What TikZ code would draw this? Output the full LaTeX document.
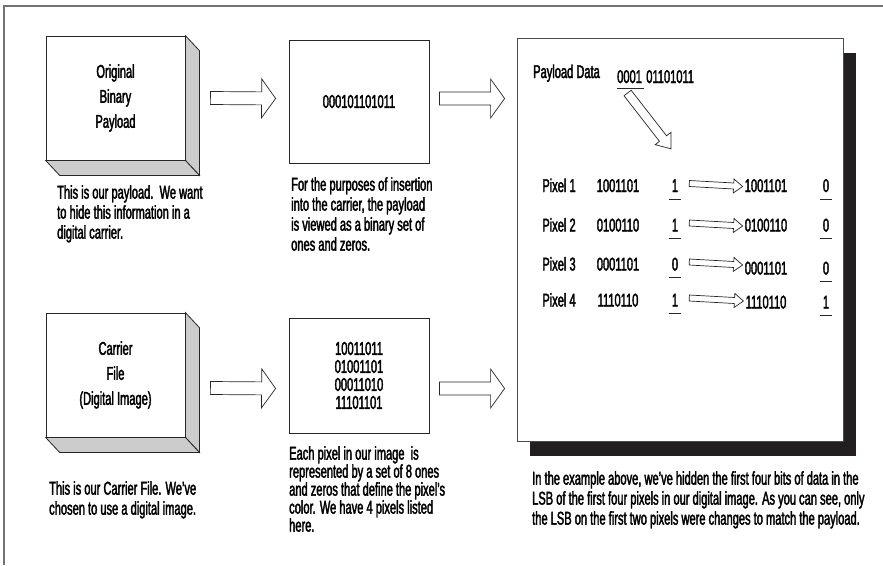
\documentclass[tikz,border=0pt]{standalone}
\usepackage{fontspec}
\setmainfont{Liberation Sans}[FakeStretch=0.6, FakeBold=2]
\usetikzlibrary{calc,shadows}

\definecolor{facegray}{HTML}{CCCCCC}
\definecolor{shadowblack}{HTML}{231F20}

\newcommand{\figfont}{\fontsize{18.5}{20}\selectfont}
\newcommand{\boxfont}{\fontsize{18.5}{25}\selectfont}
\newcommand{\digitfont}{\fontsize{18.5}{18}\selectfont}

% hollow block arrow: tail, tip, shaft half width, head half width, head length
\newcommand{\hollowarrow}[5]{%
  \coordinate (ha-t) at (#1);
  \coordinate (ha-h) at (#2);
  \coordinate (ha-n) at ($(ha-h)!#5!(ha-t)$);
  \draw[hollow] ($(ha-t)!#3!90:(ha-h)$) -- ($(ha-n)!#3!90:(ha-h)$)
    -- ($(ha-n)!#4!90:(ha-h)$) -- (ha-h) -- ($(ha-n)!#4!-90:(ha-h)$)
    -- ($(ha-n)!#3!-90:(ha-h)$) -- ($(ha-t)!#3!-90:(ha-h)$) -- cycle;
}

\tikzset{
  every node/.style={font=\figfont, inner sep=0pt},
  hollow/.style={draw=black!85, line width=0.7pt, fill=white},
  solidbox/.style={draw=black!85, line width=0.8pt, fill=white, minimum width=139pt, minimum height=124pt, align=center, font=\boxfont},
  face/.style={draw=black!85, line width=0.8pt, fill=facegray},
  plainbox/.style={draw=black!85, line width=0.8pt, fill=white, align=center},
  caption/.style={anchor=north west, align=left},
  bitnode/.style={anchor=base, inner xsep=3pt, text height=13pt, text depth=7pt},
  rowtext/.style={anchor=base},
}

\begin{document}
\begin{tikzpicture}[x=1pt, y=-1pt]
\useasboundingbox (0,0) rectangle (883,565);
\draw[black!55, line width=1.2pt] (4,565) -- (4,6) -- (883,6);

% solid boxes on the left
\node[solidbox] (payload) at (115.5,98) {Original\\Binary\\Payload};
\node[solidbox] (carrier) at (115.5,375) {Carrier\\File\\(Digital Image)};
\foreach \b in {payload,carrier} {
  \draw[face] (\b.north east) -- ++(14,15) -- ($(\b.south east)+(14,15)$) -- (\b.south east) -- cycle;
  \draw[face] (\b.south west) -- ++(14,15) -- ($(\b.south east)+(14,15)$) -- (\b.south east) -- cycle;
}

\node[caption] (capA) at (57,185) {This is our payload.\ \ We want\\to hide this information in a\\digital carrier.};
\node[caption] (capC) at (49,481) {This is our Carrier File. We've\\chosen to use a digital image.};

% binary views
\node[plainbox, minimum width=140pt, minimum height=123pt] (binary) at (359,101.5) {000101101011};
\node[plainbox, minimum width=140pt, minimum height=115pt, font=\digitfont] (binimg) at (359,375.5) {10011011\\01001101\\00011010\\11101101};

\node[caption] (capB) at (291,177) {For the purposes of insertion\\into the carrier, the payload\\is viewed as a binary set of\\ones and zeros.};
\node[caption, font=\digitfont] (capD) at (289,446) {Each pixel in our image\ \ is\\represented by a set of 8 ones\\and zeros that define the pixel's\\color. We have 4 pixels listed\\here.};

% result box
\node[draw=black!70, line width=0.8pt, fill=white, minimum width=326pt, minimum height=403pt,
  drop shadow={opacity=1, fill=shadowblack, shadow xshift=13pt, shadow yshift=-15pt}] (hidden) at (680,239.5) {};

\node[caption] (capE) at (532,471) {In the example above, we've hidden the first four bits of data in the\\LSB of the first four pixels in our digital image. As you can see, only\\the LSB on the first two pixels were changes to match the payload.};

\hollowarrow{$(payload.east)+(25,0)$}{$(binary.west)+(-13,-3)$}{6.5pt}{19.5pt}{14pt}
\hollowarrow{$(carrier.east)+(25,13)$}{$(binimg.west)+(-13,13)$}{6.5pt}{19.5pt}{14pt}
\hollowarrow{$(binary.east)+(10,-3)$}{$(hidden.west |- binary.east)+(-12,-3)$}{6.5pt}{19.5pt}{14pt}
\hollowarrow{$(binimg.east)+(10,13)$}{$(hidden.west |- binimg.east)+(-12,13)$}{6.5pt}{19.5pt}{14pt}

% payload bits
\node[anchor=base west] (pdata) at (533,78) {Payload Data};
\node[anchor=base west] (first) at (617,83) {0001};
\node[anchor=base west] (rest) at ($(first.base east)+(4,0)$) {01101011};
\draw[black!85, line width=0.8pt] ($(first.base west)+(0,5)$) -- ($(first.base east)+(2,5)$);

% pixel rows
\foreach \n/\y/\old/\bit/\new/\out/\dy in {1/192/1001101/1/1001101/0/0, 2/231.5/0100110/1/0100110/0/0, 3/270.5/0001101/0/0001101/0/4, 4/306.5/1110110/1/1110110/1/2} {
  \node[rowtext] (pix\n) at (559,\y) {Pixel \n};
  \node[rowtext] (old\n) at (618,\y) {\old};
  \node[bitnode] (bit\n) at (675,\y) {\bit};
  \node[rowtext] (new\n) at (766,\y+\dy) {\new};
  \node[bitnode] (out\n) at (826,\y+\dy) {\out};
  \draw[black!85, line width=0.8pt] (bit\n.south west) -- (bit\n.south east);
  \draw[black!85, line width=0.8pt] (out\n.south west) -- (out\n.south east);
  \hollowarrow{$(bit\n.east)+(8,-5.5)$}{$(new\n.west |- bit\n.base)+(-2,-5.5)$}{3pt}{7pt}{9pt}
}

\hollowarrow{$(first.base)+(-2,10)$}{$(bit1.north)+(-4,-30)$}{4.5pt}{10pt}{13pt}
\end{tikzpicture}
\end{document}
